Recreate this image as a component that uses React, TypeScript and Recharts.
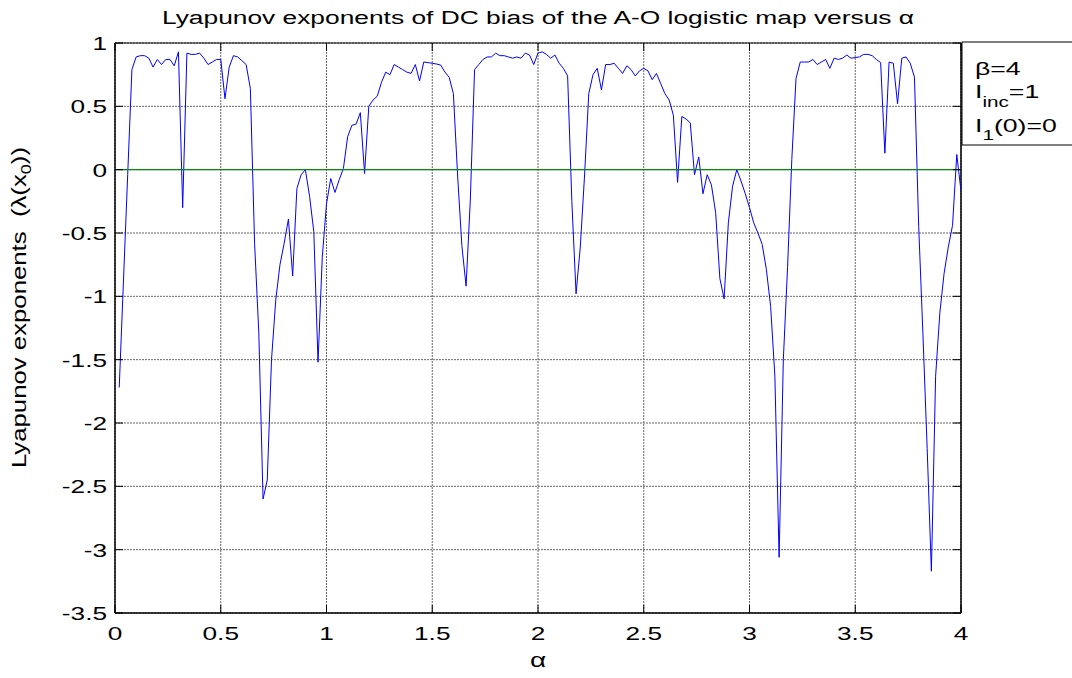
import React from 'react';
import { LineChart, Line, XAxis, YAxis, CartesianGrid, ReferenceLine } from 'recharts';

const W = 1072;
const H = 678;
const PLOT = { left: 115, top: 43, right: 961, bottom: 613 };
const FONT = '"Liberation Sans", Arial, Helvetica, sans-serif';

// alpha runs 0.02 ... 4.00 in steps of 0.02
const ALPHA_STEP = 0.02;

// Lyapunov exponent of the DC bias, one value per alpha step
const LYAP = [
  -1.72, -0.88, -0.04, 0.79, 0.89, 0.90, 0.90, 0.88, 0.81, 0.87,
  0.83, 0.87, 0.87, 0.82, 0.93, -0.30, 0.92, 0.91, 0.91, 0.92,
  0.88, 0.83, 0.85, 0.87, 0.87, 0.56, 0.81, 0.90, 0.89, 0.86,
  0.83, 0.64, -0.58, -1.29, -2.60, -2.45, -1.50, -1.03, -0.75, -0.58,
  -0.39, -0.84, -0.15, -0.04, 0.00, -0.21, -0.49, -1.52, -0.69, -0.27,
  -0.07, -0.18, -0.08, 0.01, 0.26, 0.35, 0.36, 0.45, -0.03, 0.50,
  0.55, 0.58, 0.69, 0.77, 0.75, 0.83, 0.81, 0.79, 0.77, 0.76,
  0.83, 0.70, 0.85, 0.845, 0.84, 0.834, 0.826, 0.77, 0.73, 0.60,
  -0.05, -0.60, -0.92, -0.24, 0.79, 0.83, 0.87, 0.89, 0.89, 0.92,
  0.90, 0.90, 0.89, 0.88, 0.89, 0.88, 0.92, 0.905, 0.83, 0.92,
  0.93, 0.91, 0.88, 0.905, 0.84, 0.80, 0.74, -0.25, -0.98, -0.61,
  -0.05, 0.60, 0.75, 0.80, 0.63, 0.83, 0.83, 0.84, 0.80, 0.76,
  0.82, 0.79, 0.74, 0.78, 0.80, 0.78, 0.71, 0.76, 0.68, 0.60,
  0.55, 0.43, -0.10, 0.42, 0.40, 0.37, -0.04, 0.10, -0.19, -0.04,
  -0.12, -0.34, -0.86, -1.02, -0.42, -0.13, 0.00, -0.09, -0.19, -0.30,
  -0.42, -0.50, -0.59, -0.79, -1.08, -1.63, -3.06, -1.50, -0.77, 0.08,
  0.72, 0.85, 0.85, 0.85, 0.87, 0.83, 0.85, 0.87, 0.80, 0.88,
  0.87, 0.88, 0.905, 0.88, 0.885, 0.89, 0.91, 0.91, 0.90, 0.87,
  0.845, 0.13, 0.85, 0.84, 0.52, 0.88, 0.89, 0.84, 0.73, -0.45,
  -1.30, -2.20, -3.17, -1.63, -1.13, -0.82, -0.61, -0.44, 0.12, -0.17,
];

const X_TICKS = [0, 0.5, 1, 1.5, 2, 2.5, 3, 3.5, 4];
const Y_TICKS = [-3.5, -3, -2.5, -2, -1.5, -1, -0.5, 0, 0.5, 1];

const TITLE = 'Lyapunov exponents of DC bias of the A-O logistic map versus α';
const X_LABEL = 'α';

const data = LYAP.map((v, i) => ({ a: +((i + 1) * ALPHA_STEP).toFixed(2), v }));

const TICK_LEN = 8;

const XTick = (props: any) => {
  const { x, y, payload } = props;
  return (
    <g>
      <line x1={x} x2={x} y1={PLOT.bottom} y2={PLOT.bottom - TICK_LEN} stroke="#000" />
      <line x1={x} x2={x} y1={PLOT.top} y2={PLOT.top + TICK_LEN} stroke="#000" />
      <text
        transform={`translate(${x},${y + 27}) scale(1.38,1)`}
        textAnchor="middle"
        fontSize={19}
        fontFamily={FONT}
        fill="#000"
      >
        {String(payload.value)}
      </text>
    </g>
  );
};

const YTick = (props: any) => {
  const { x, y, payload } = props;
  return (
    <g>
      <line x1={PLOT.left} x2={PLOT.left + TICK_LEN} y1={y} y2={y} stroke="#000" />
      <line x1={PLOT.right} x2={PLOT.right - TICK_LEN} y1={y} y2={y} stroke="#000" />
      <text
        transform={`translate(${x - 8},${y + 7}) scale(1.38,1)`}
        textAnchor="end"
        fontSize={19}
        fontFamily={FONT}
        fill="#000"
      >
        {String(payload.value)}
      </text>
    </g>
  );
};

export default function App() {
  return (
    <div style={{ position: 'absolute', left: 0, top: 0, width: W, height: H, background: '#fff' }}>
      <LineChart
        width={W}
        height={H}
        data={data}
        margin={{ top: PLOT.top, right: W - PLOT.right, bottom: 0, left: 0 }}
      >
        <CartesianGrid stroke="#666" strokeDasharray="2 1" />
        <XAxis
          dataKey="a"
          type="number"
          domain={[0, 4]}
          ticks={X_TICKS}
          interval={0}
          height={H - PLOT.bottom}
          tickSize={0}
          tickMargin={0}
          tickLine={false}
          axisLine={{ stroke: '#000', strokeWidth: 1.5 }}
          tick={(p: any) => <XTick {...p} />}
          allowDataOverflow
        />
        <YAxis
          type="number"
          domain={[-3.5, 1]}
          ticks={Y_TICKS}
          interval={0}
          width={PLOT.left}
          tickSize={0}
          tickMargin={0}
          tickLine={false}
          axisLine={{ stroke: '#000', strokeWidth: 1.5 }}
          tick={(p: any) => <YTick {...p} />}
          allowDataOverflow
        />
        <ReferenceLine y={1} stroke="#000" strokeWidth={1} />
        <ReferenceLine x={4} stroke="#000" strokeWidth={1.5} />
        <Line
          type="linear"
          dataKey="v"
          stroke="#0000ff"
          strokeWidth={1}
          dot={false}
          activeDot={false}
          isAnimationActive={false}
        />
        <ReferenceLine y={0} stroke="#0a8a0a" strokeWidth={1.3} />
      </LineChart>

      <svg
        width={W}
        height={H}
        style={{ position: 'absolute', left: 0, top: 0, pointerEvents: 'none' }}
        fontFamily={FONT}
      >
        <text x={538} y={24} textAnchor="middle" fontSize={18} textLength={752} lengthAdjust="spacingAndGlyphs">
          {TITLE}
        </text>
        <text transform="translate(538,667) scale(1.4,1)" textAnchor="middle" fontSize={20}>
          {X_LABEL}
        </text>
        <text
          transform="translate(26,307.5) rotate(-90)"
          textAnchor="middle"
          fontSize={20}
          textLength={321}
          lengthAdjust="spacingAndGlyphs"
          style={{ whiteSpace: 'pre' }}
        >
          {'Lyapunov exponents  (λ(x'}
          <tspan dy={5} fontSize={14}>0</tspan>
          <tspan dy={-5}>))</tspan>
        </text>

        <rect x={962} y={42} width={130} height={103} fill="#fff" stroke="#000" strokeWidth={1} />
        <g transform="translate(975,0) scale(1.48,1)" fontSize={18}>
          <text x={0} y={75}>β=4</text>
          <text x={0} y={98}>
            I<tspan dy={9} fontSize={14}>inc</tspan>
            <tspan dy={-9}>=1</tspan>
          </text>
          <text x={0} y={132}>
            I<tspan dy={8} fontSize={14}>1</tspan>
            <tspan dy={-8}>(0)=0</tspan>
          </text>
        </g>
      </svg>
    </div>
  );
}
